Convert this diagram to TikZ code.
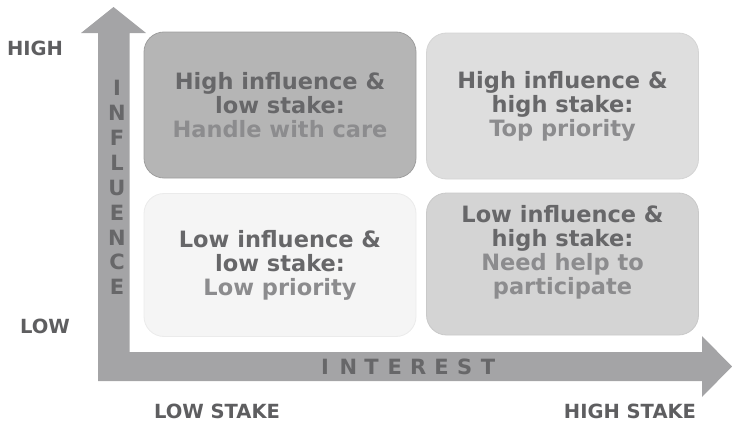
\documentclass[tikz,border=0pt]{standalone}
\usepackage{fontspec}
\setmainfont{DejaVu Sans}
\definecolor{axisgray}{HTML}{A4A4A6}
\definecolor{darktext}{HTML}{676769}
\definecolor{lighttext}{HTML}{8C8C8E}
\definecolor{labeltext}{HTML}{5E5E60}
\begin{document}
\begin{tikzpicture}[x=1pt, y=-1pt,
  quad/.style={rounded corners=20pt, line width=0.8pt, inner sep=0pt,
    minimum width=272pt, minimum height=146pt},
  quadtext/.style={align=center, text=darktext,
    font=\fontsize{22.5}{24}\selectfont\bfseries},
  axisletter/.style={text=darktext, font=\fontsize{21}{21}\selectfont\bfseries},
  endlabel/.style={text=labeltext, font=\fontsize{19.5}{19.5}\selectfont\bfseries}]
  \useasboundingbox (0,0) rectangle (732,423);
  % L-shaped axis with its two heads
  \fill[axisgray] (113.5,7) -- (146,33) -- (129.5,33) -- (129.5,352) -- (702,352)
    -- (702,336) -- (732,366.5) -- (702,397) -- (702,381) -- (98,381)
    -- (98,33) -- (81,33) -- cycle;
  % upper boxes
  \node[quad, fill=black!29, draw=black!38] (hiLo) at (280,105) {};
  \node[quad, fill=black!13, draw=black!17] (hiHi) at (562.5,106) {};
  % lower boxes
  \node[quad, fill=black!4, draw=black!8, minimum height=143pt] (loLo) at (280,265) {};
  \node[quad, fill=black!17, draw=black!21, minimum height=142pt] (loHi) at (562.5,264) {};
  % box texts
  \node[quadtext] (hiLoText) at (hiLo) {High influence \&\\low stake:\\
    \textcolor{lighttext}{Handle with care}};
  \node[quadtext] (hiHiText) at (hiHi) {High influence \&\\high stake:\\
    \textcolor{lighttext}{Top priority}};
  \node[quadtext] (loLoText) at (loLo) {Low influence \&\\low stake:\\
    \textcolor{lighttext}{Low priority}};
  \node[quadtext, yshift=12pt] (loHiText) at (loHi) {Low influence \&\\high stake:\\
    \textcolor{lighttext}{Need help to}\\\textcolor{lighttext}{participate}};
  % axis words, one letter at a time
  \foreach \ch [count=\i] in {I,N,F,L,U,E,N,C,E}
    \node[axisletter] (infl\i) at (117,{88+24.9*(\i-1)}) {\ch};
  \foreach \ch [count=\i] in {I,N,T,E,R,E,S,T}
    \node[axisletter] (intr\i) at ({325+23.3*(\i-1)},367) {\ch};
  % end labels
  \node[endlabel] (high) at (35,48) {HIGH};
  \node[endlabel] (low) at (45,326) {LOW};
  \node[endlabel] (lowStake) at (217,411) {LOW STAKE};
  \node[endlabel] (highStake) at (630,411) {HIGH STAKE};
\end{tikzpicture}
\end{document}
